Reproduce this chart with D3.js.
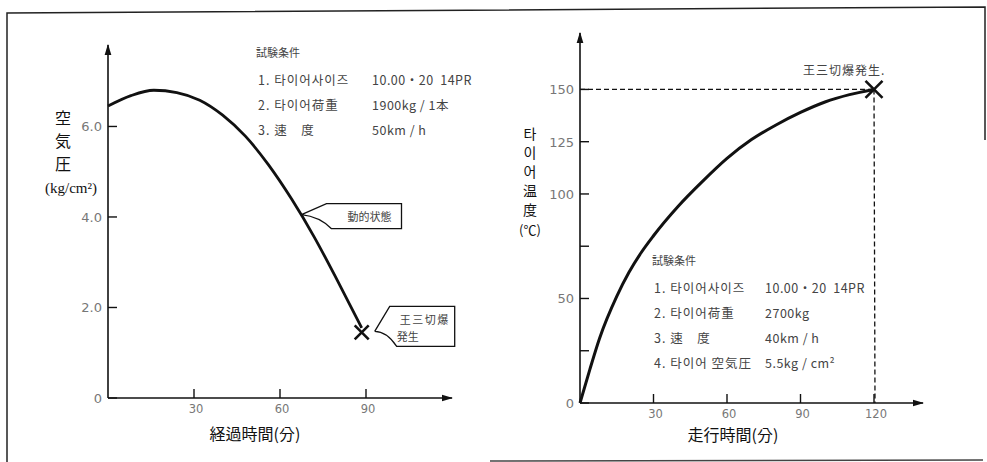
<!DOCTYPE html>
<html>
<head>
<meta charset="utf-8">
<script src="https://cdn.jsdelivr.net/npm/d3@7"></script>
<style>
  body { margin: 0; background: #fff; }
  svg { display: block; }
  text { font-family: "Noto Sans CJK KR", "Noto Sans CJK JP", sans-serif; }
</style>
</head>
<body>
<script>
// left chart: air pressure vs elapsed time
const leftTime = [0, 8, 16, 24, 32, 40, 48, 56, 64, 72, 80, 88.5];
const leftPressure = [6.45, 6.68, 6.8, 6.75, 6.58, 6.25, 5.78, 5.15, 4.4, 3.55, 2.6, 1.55];
const leftBurst = [88.5, 1.45];
const leftNote = [67.5, 4.05];
const leftXTicks = [30, 60, 90];
const leftYTicks = [0, 2, 4, 6];
const leftYTickLabels = ["0", "2.0", "4.0", "6.0"];
const leftYLabel = ["空", "気", "圧"];
const leftYUnit = "(kg/cm²)";
const leftXLabel = "経過時間(分)";
const leftConditions = [
  ["1. 타이어사이즈", "10.00・20  14PR"],
  ["2. 타이어荷重", "1900kg / 1本"],
  ["3. 速　度", "50km / h"],
];
const noteDynamic = "動的状態";
const noteBurst = ["王三切爆", "発生"];

// right chart: tire temperature vs running time
const rightTime = [0, 4, 8, 15, 20, 25, 30, 40, 50, 60, 70, 80, 90, 100, 110, 120];
const rightTemp = [0, 16, 31, 51, 62.5, 72, 80, 94, 106, 117, 126, 133, 139, 144, 147.5, 150];
const rightBurst = [120, 150];
const rightXTicks = [30, 60, 90, 120];
const rightYTicks = [0, 25, 50, 75, 100, 125, 150];
const rightYTickLabels = ["0", "", "50", "", "100", "125", "150"];
const rightYLabel = ["타", "이", "어", "温", "度"];
const rightYUnit = "(℃)";
const rightXLabel = "走行時間(分)";
const rightConditions = [
  ["1. 타이어사이즈", "10.00・20  14PR"],
  ["2. 타이어荷重", "2700kg"],
  ["3. 速　度", "40km / h"],
  ["4. 타이어 空気圧", "5.5kg / cm²"],
];
const rightNote = "王三切爆発生.";
const condTitle = "試験条件";

const width = 987, height = 462;
const svg = d3.select("body").append("svg")
  .attr("width", width).attr("height", height)
  .attr("viewBox", `0 0 ${width} ${height}`);

// page frame
svg.append("path")
  .attr("d", "M7,462 L7,13 L985,7 L985,140")
  .attr("fill", "none").attr("stroke", "#222").attr("stroke-width", 1.5);
svg.append("line")
  .attr("x1", 490).attr("y1", 461).attr("x2", 983).attr("y2", 460)
  .attr("stroke", "#444").attr("stroke-width", 1.5);

const defs = svg.append("defs");
defs.append("marker")
  .attr("id", "arrow").attr("viewBox", "0 0 10 10")
  .attr("refX", 9).attr("refY", 5)
  .attr("markerWidth", 7).attr("markerHeight", 7)
  .attr("orient", "auto")
  .append("path").attr("d", "M0,2 L10,5 L0,8 Z").attr("fill", "#111");

const tickColor = "#777";
const textColor = "#444";

const drawAxes = (g, x, y, opts) => {
  const [x0, x1] = x.range();
  const [y0, y1] = y.range();
  g.append("line")
    .attr("x1", x0).attr("y1", y0).attr("x2", x0).attr("y2", y1)
    .attr("stroke", "#111").attr("stroke-width", 1.6)
    .attr("marker-end", "url(#arrow)");
  g.append("line")
    .attr("x1", x0).attr("y1", y0).attr("x2", x1).attr("y2", y0)
    .attr("stroke", "#111").attr("stroke-width", 1.6)
    .attr("marker-end", "url(#arrow)");

  // x ticks, drawn inside
  g.selectAll(".xt").data(opts.xTicks).enter().append("line")
    .attr("x1", (d) => x(d)).attr("x2", (d) => x(d))
    .attr("y1", y0).attr("y2", y0 - 9)
    .attr("stroke", "#111").attr("stroke-width", 1.4);
  g.selectAll(".xl").data(opts.xTicks).enter().append("text")
    .attr("x", (d) => x(d) + 2).attr("y", y0 + 15)
    .attr("text-anchor", "middle").attr("font-size", 11.5)
    .attr("fill", tickColor)
    .style("font-family", "DejaVu Sans")
    .text((d) => d);

  g.selectAll(".yt").data(opts.yTicks).enter().append("line")
    .attr("x1", x0).attr("x2", x0 + 9)
    .attr("y1", (d) => y(d)).attr("y2", (d) => y(d))
    .attr("stroke", "#111").attr("stroke-width", 1.4);
  g.selectAll(".yl").data(opts.yTicks).enter().append("text")
    .attr("x", x0 - 6).attr("y", (d) => y(d) + 5)
    .attr("text-anchor", "end").attr("font-size", 13)
    .attr("fill", tickColor)
    .style("font-family", "DejaVu Sans")
    .text((d, i) => opts.yTickLabels[i]);
};

const drawCross = (g, cx, cy, r) => {
  g.append("path")
    .attr("d", `M${cx - r},${cy - r}L${cx + r},${cy + r}M${cx - r},${cy + r}L${cx + r},${cy - r}`)
    .attr("stroke", "#111").attr("stroke-width", 2.6).attr("fill", "none");
};

const drawConditions = (g, x0, valueX, y0, rows) => {
  g.append("text")
    .attr("x", x0).attr("y", y0)
    .attr("font-size", 11).attr("fill", textColor)
    .text(condTitle);
  rows.forEach((r, i) => {
    const yy = y0 + 28 + i * 25;
    g.append("text")
      .attr("x", x0 + 2).attr("y", yy)
      .attr("font-size", 12.5).attr("fill", textColor)
      .attr("letter-spacing", 1)
      .style("white-space", "pre")
      .text(r[0]);
    g.append("text")
      .attr("x", valueX).attr("y", yy)
      .attr("font-size", 12.5).attr("fill", textColor)
      .attr("letter-spacing", 0.5)
      .style("white-space", "pre")
      .text(r[1]);
  });
};

// ---------- left chart ----------
const gl = svg.append("g");
const xl = d3.scaleLinear().domain([0, 120]).range([108, 452]);
const yl = d3.scaleLinear().domain([0, 7.8]).range([398, 45]);
drawAxes(gl, xl, yl, { xTicks: leftXTicks, yTicks: leftYTicks, yTickLabels: leftYTickLabels });

const leftLine = d3.line()
  .x((d, i) => xl(leftTime[i]))
  .y((d) => yl(d))
  .curve(d3.curveMonotoneX);
gl.append("path")
  .attr("d", leftLine(leftPressure))
  .attr("fill", "none").attr("stroke", "#111").attr("stroke-width", 2.8);
drawCross(gl, xl(leftBurst[0]), yl(leftBurst[1]), 7);

gl.selectAll(".ylab").data(leftYLabel).enter().append("text")
  .attr("x", 63).attr("y", (d, i) => 124 + i * 23)
  .attr("text-anchor", "middle").attr("font-size", 16)
  .attr("fill", "#111")
  .text((d) => d);
gl.append("text")
  .attr("x", 71).attr("y", 193)
  .attr("text-anchor", "middle").attr("font-size", 15)
  .attr("fill", "#111")
  .style("font-family", "Liberation Serif")
  .text(leftYUnit);
gl.append("text")
  .attr("x", 255).attr("y", 440)
  .attr("text-anchor", "middle").attr("font-size", 16)
  .attr("fill", "#111")
  .text(leftXLabel);

drawConditions(gl, 256, 372, 57, leftConditions);

// callout: dynamic state
{
  const tx = xl(leftNote[0]), ty = yl(leftNote[1]);
  gl.append("path")
    .attr("d", `M${tx},${ty} L${tx + 25},${ty - 11} L${tx + 100},${ty - 11} L${tx + 100},${ty + 14} L${tx + 30},${ty + 14} Q${tx + 18},${ty + 2} ${tx},${ty}`)
    .attr("fill", "#fff").attr("stroke", "#111").attr("stroke-width", 1.3);
  gl.append("text")
    .attr("x", tx + 68).attr("y", ty + 6)
    .attr("text-anchor", "middle").attr("font-size", 11)
    .attr("fill", textColor)
    .text(noteDynamic);
}
// callout: burst
{
  const tx = xl(leftBurst[0]) + 13, ty = yl(leftBurst[1]) - 1;
  gl.append("path")
    .attr("d", `M${tx},${ty} L${tx + 15},${ty - 25} L${tx + 80},${ty - 25} L${tx + 80},${ty + 15} L${tx + 22},${ty + 15} Q${tx + 12},${ty} ${tx},${ty}`)
    .attr("fill", "#fff").attr("stroke", "#111").attr("stroke-width", 1.3);
  gl.append("text")
    .attr("x", tx + 25).attr("y", ty - 7)
    .attr("font-size", 11).attr("fill", textColor)
    .attr("letter-spacing", 1.5)
    .text(noteBurst[0]);
  gl.append("text")
    .attr("x", tx + 22).attr("y", ty + 10)
    .attr("font-size", 11).attr("fill", textColor)
    .text(noteBurst[1]);
}

// ---------- right chart ----------
const gr = svg.append("g");
const xr = d3.scaleLinear().domain([0, 140]).range([580, 923]);
const yr = d3.scaleLinear().domain([0, 177]).range([403, 33]);
drawAxes(gr, xr, yr, { xTicks: rightXTicks, yTicks: rightYTicks, yTickLabels: rightYTickLabels });

const bx = xr(rightBurst[0]), by = yr(rightBurst[1]);
gr.append("line")
  .attr("x1", xr(0)).attr("y1", by).attr("x2", bx).attr("y2", by)
  .attr("stroke", "#111").attr("stroke-width", 1.3).attr("stroke-dasharray", "5,3");
gr.append("line")
  .attr("x1", bx).attr("y1", by).attr("x2", bx + 1).attr("y2", yr(0))
  .attr("stroke", "#111").attr("stroke-width", 1.3).attr("stroke-dasharray", "5,3");

const rightLine = d3.line()
  .x((d, i) => xr(rightTime[i]))
  .y((d) => yr(d))
  .curve(d3.curveMonotoneX);
gr.append("path")
  .attr("d", rightLine(rightTemp))
  .attr("fill", "none").attr("stroke", "#111").attr("stroke-width", 3);
drawCross(gr, bx, by, 8.5);

gr.append("text")
  .attr("x", 803).attr("y", 75)
  .attr("font-size", 12).attr("fill", textColor)
  .attr("letter-spacing", 1)
  .text(rightNote);

gr.selectAll(".ylab").data(rightYLabel).enter().append("text")
  .attr("x", 530).attr("y", (d, i) => 139 + i * 19)
  .attr("text-anchor", "middle").attr("font-size", 14)
  .attr("fill", "#111")
  .text((d) => d);
gr.append("text")
  .attr("x", 530).attr("y", 235)
  .attr("text-anchor", "middle").attr("font-size", 13)
  .attr("fill", "#111")
  .text(rightYUnit);
gr.append("text")
  .attr("x", 733).attr("y", 441)
  .attr("text-anchor", "middle").attr("font-size", 16)
  .attr("fill", "#111")
  .text(rightXLabel);

drawConditions(gr, 652, 765, 265, rightConditions);
</script>
</body>
</html>
